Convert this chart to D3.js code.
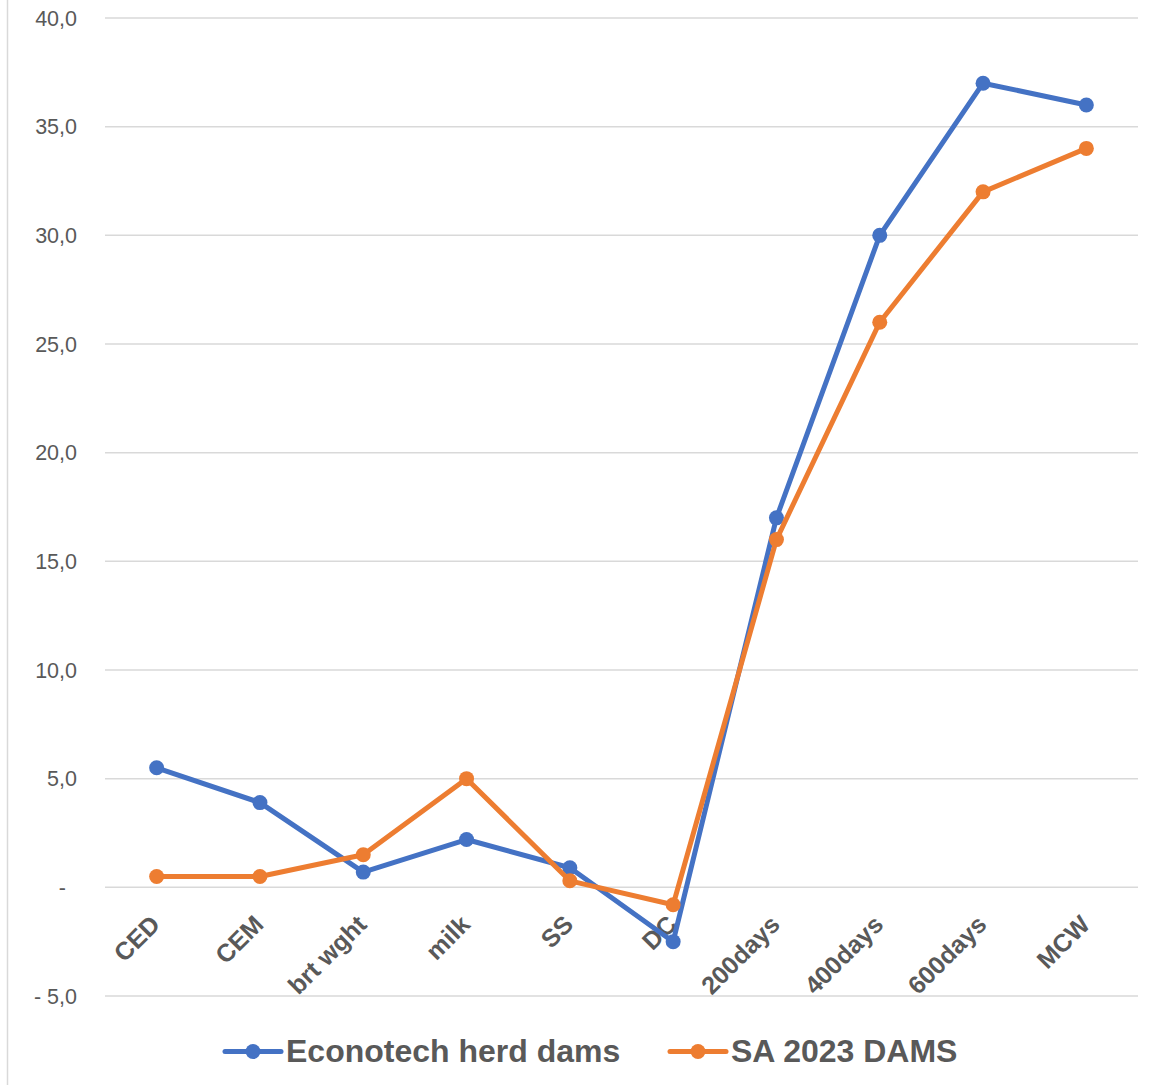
<!DOCTYPE html>
<html>
<head>
<meta charset="utf-8">
<script src="https://cdn.jsdelivr.net/npm/d3@7/dist/d3.min.js"></script>
<style>
  html, body { margin: 0; padding: 0; background: #fff; }
  svg { display: block; }
</style>
</head>
<body>
<svg id="chart" width="1162" height="1085"></svg>
<script>
const categories = ["CED", "CEM", "brt wght", "milk", "SS", "DC", "200days", "400days", "600days", "MCW"];
const econotech = [5.5, 3.9, 0.7, 2.2, 0.9, -2.5, 17, 30, 37, 36];
const sa2023 = [0.5, 0.5, 1.5, 5.0, 0.3, -0.8, 16, 26, 32, 34];
const seriesNames = ["Econotech herd dams", "SA 2023 DAMS"];
const seriesColors = ["#4472C4", "#ED7D31"];
const yTicks = [-5, 0, 5, 10, 15, 20, 25, 30, 35, 40];

const svg = d3.select("#chart");
const W = 1162, H = 1085;
const plot = { left: 105, right: 1138, top: 18, bottom: 996 };

// outer border (left edge visible)
svg.append("line")
  .attr("x1", 7.5).attr("x2", 7.5).attr("y1", 0).attr("y2", H)
  .attr("stroke", "#d9d9d9").attr("stroke-width", 1.5);

const x = d3.scaleBand().domain(categories).range([plot.left, plot.right]);
const y = d3.scaleLinear().domain([-5, 40]).range([plot.bottom, plot.top]);
const cx = d => x(d) + x.bandwidth() / 2;

function fmt(v) {
  if (v === 0) return "-";
  if (v < 0) return "- " + d3.format(".1f")(-v).replace(".", ",");
  return d3.format(".1f")(v).replace(".", ",");
}

// gridlines
svg.append("g").selectAll("line").data(yTicks).join("line")
  .attr("x1", plot.left).attr("x2", plot.right)
  .attr("y1", d => y(d)).attr("y2", d => y(d))
  .attr("stroke", "#d9d9d9").attr("stroke-width", 1.5);

// y axis labels
svg.append("g").selectAll("text").data(yTicks).join("text")
  .attr("x", d => d === 0 ? 66 : 77)
  .attr("y", d => y(d))
  .attr("dy", "0.35em")
  .attr("text-anchor", "end")
  .attr("font-family", "Liberation Sans, Arial, sans-serif")
  .attr("font-size", 21.5)
  .attr("fill", "#595959")
  .text(d => fmt(d));

// x axis labels
svg.append("g").selectAll("text").data(categories).join("text")
  .attr("transform", d => `translate(${cx(d) + 5},${926}) rotate(-45)`)
  .attr("text-anchor", "end")
  .attr("font-family", "Liberation Sans, Arial, sans-serif")
  .attr("font-weight", "bold")
  .attr("font-size", 25)
  .attr("fill", "#595959")
  .text(d => d);

// series
const allSeries = [econotech, sa2023];
const line = d3.line().x((d, i) => cx(categories[i])).y(d => y(d));
allSeries.forEach((vals, si) => {
  const g = svg.append("g");
  g.append("path").datum(vals)
    .attr("d", line)
    .attr("fill", "none")
    .attr("stroke", seriesColors[si])
    .attr("stroke-width", 5)
    .attr("stroke-linejoin", "round")
    .attr("stroke-linecap", "round");
  g.selectAll("circle").data(vals).join("circle")
    .attr("cx", (d, i) => cx(categories[i]))
    .attr("cy", d => y(d))
    .attr("r", 7.5)
    .attr("fill", seriesColors[si]);
});

// legend
const legendX = [225, 670];
const legendY = 1051.5;
seriesNames.forEach((name, si) => {
  const g = svg.append("g").attr("transform", `translate(${legendX[si]},${legendY})`);
  g.append("line").attr("x1", 0).attr("x2", 56).attr("y1", 0).attr("y2", 0)
    .attr("stroke", seriesColors[si]).attr("stroke-width", 5).attr("stroke-linecap", "round");
  g.append("circle").attr("cx", 28).attr("cy", 0).attr("r", 7.5).attr("fill", seriesColors[si]);
  g.append("text").attr("x", 61).attr("y", 10.5)
    .attr("font-family", "Liberation Sans, Arial, sans-serif")
    .attr("font-weight", "bold")
    .attr("font-size", 32)
    .attr("fill", "#595959")
    .text(name);
});
</script>
</body>
</html>
